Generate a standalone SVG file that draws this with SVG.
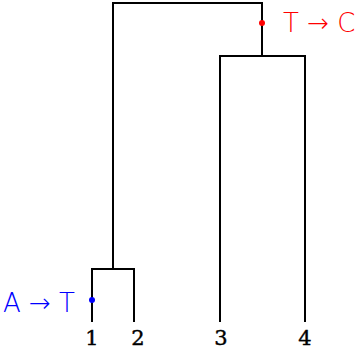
<svg xmlns="http://www.w3.org/2000/svg" width="360" height="350" viewBox="0 0 360 350">
<style>
.e{fill:none;stroke:#000;stroke-width:2;stroke-linecap:square}
.n{font-family:"DejaVu Serif","Liberation Serif",serif;font-size:21px;text-anchor:middle;fill:#000;stroke:#000;stroke-width:0.4}
.l{font-family:"DejaVu Sans","Liberation Sans",sans-serif;font-size:26px;font-weight:200}
</style>
<rect width="360" height="350" fill="#fff"/>
<g id="connectors">
<path class="e" d="M92 321V269H134V321"/>
<path class="e" d="M220 321V56H305V321"/>
<path class="e" d="M113 269V3H262V56"/>
</g>
<g id="leaf1"><text class="n" x="92" y="345">1</text></g>
<g id="leaf2"><text class="n" x="138" y="345">2</text></g>
<g id="leaf3"><text class="n" x="221" y="345">3</text></g>
<g id="leaf4"><text class="n" x="305" y="345">4</text></g>
<g id="mutation1"><circle cx="92" cy="300" r="3" fill="#0000ff"/><text class="l" x="3" y="312" fill="#0000ff">A → T</text></g>
<g id="mutation2"><circle cx="262" cy="23" r="3" fill="#ff0000"/><text class="l" x="283" y="32" fill="#ff0000">T → C</text></g>
</svg>
